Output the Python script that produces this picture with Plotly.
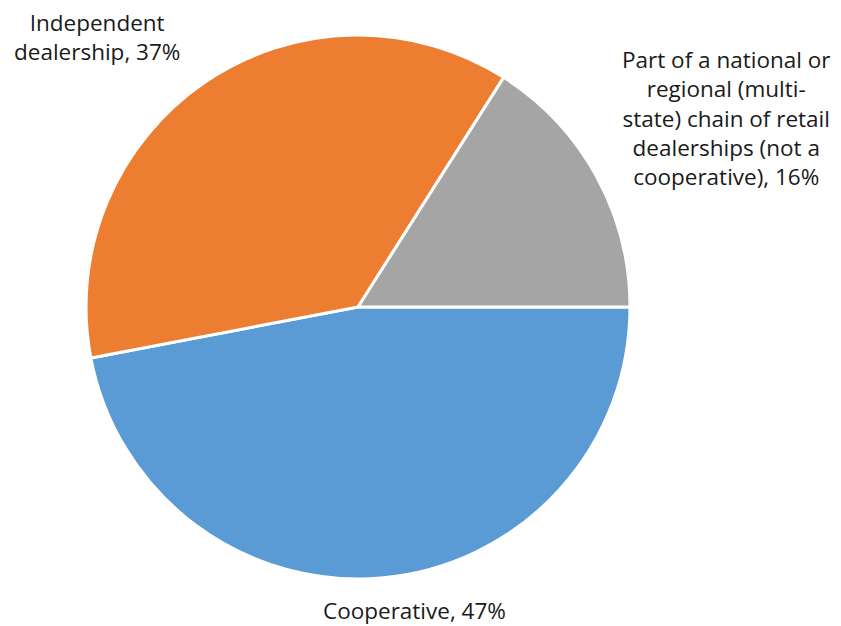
import plotly.graph_objects as go

categories = ["Cooperative", "Independent dealership",
              "Part of a national or regional (multi-state) chain of retail dealerships (not a cooperative)"]
display_labels = ["Cooperative, 47%", "Independent<br>dealership, 37%",
                  "Part of a national or<br>regional (multi-<br>state) chain of retail<br>dealerships (not a<br>cooperative), 16%"]
values = [47, 37, 16]
colors = ["#5B9BD5", "#ED7D31", "#A5A5A5"]

fig = go.Figure()
fig.add_trace(go.Pie(
    labels=categories, values=values, sort=False, direction="clockwise",
    rotation=90, textinfo="none", hoverinfo="label+percent",
    marker=dict(colors=colors, line=dict(color="white", width=3)),
    domain=dict(x=[0.1023, 0.7491], y=[0.0751, 0.9441]),
    showlegend=False,
))

label_pos = [(414, 610), (97, 37), (726, 118)]
for txt, (px, py) in zip(display_labels, label_pos):
    fig.add_annotation(text=txt, x=px / 841, y=1 - py / 626, xref="paper", yref="paper",
                       showarrow=False, align="center", xanchor="center", yanchor="middle",
                       font=dict(family="Open Sans", size=22.5, color="#1a1a1a"))

fig.update_layout(width=841, height=626, margin=dict(l=0, r=0, t=0, b=0),
                  paper_bgcolor="white", plot_bgcolor="white")
fig.write_html("out.html")
